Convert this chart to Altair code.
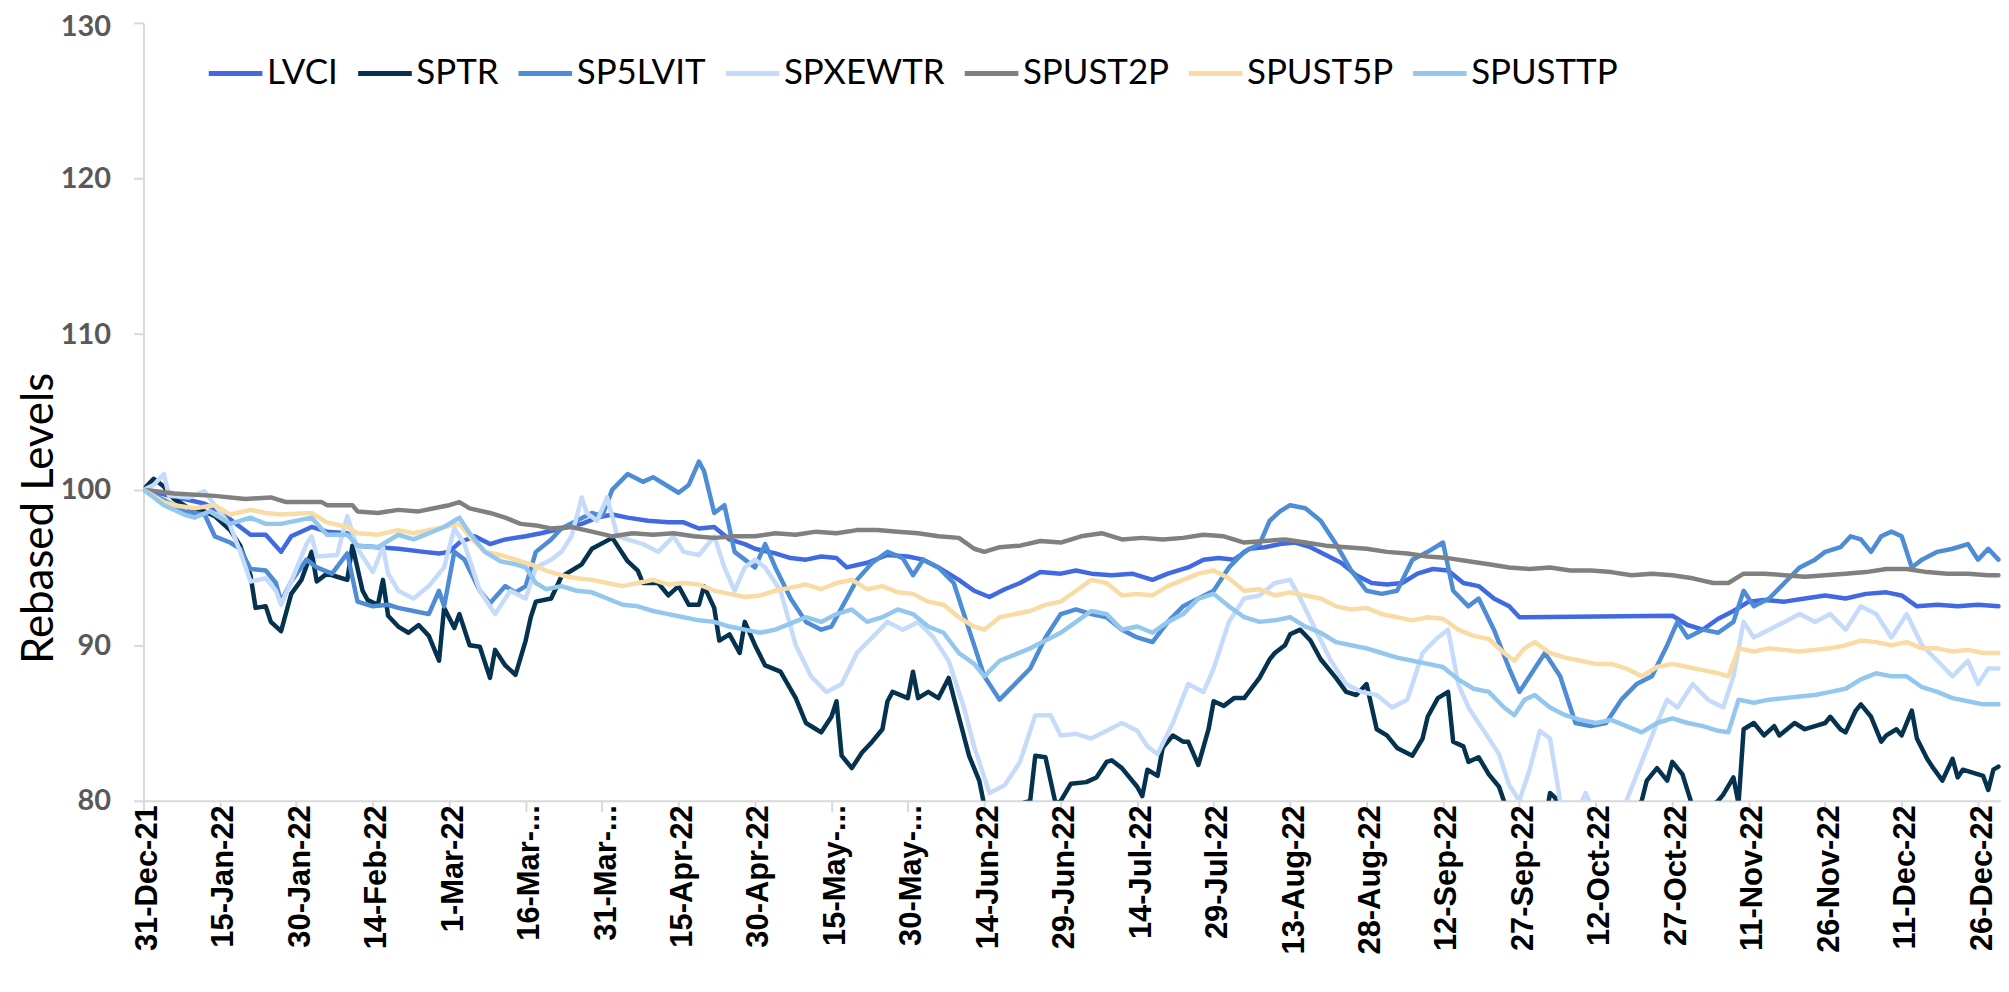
import datetime as dt
import altair as alt
import pandas as pd

# ---- data: (day offset from 31-Dec-21, rebased level) ----
LVCI = [(0,100),(3,99.8),(6,99.5),(8,99.4),(12,99.1),(15,98.6),(17,98.1),(21,97.1),(24,97.1),(27,96.0),(29,97.0),
        (33,97.6),(36,97.3),(40,97.2),(42,96.4),(46,96.3),(50,96.2),(55,96.0),(58,95.9),(60,96.0),(62,96.6),(65,97.0),
        (68,96.5),(71,96.8),(75,97.0),(78,97.2),(82,97.5),(86,97.8),(89,98.2),(92,98.4),(95,98.2),(99,98.0),(103,97.9),
        (106,97.9),(109,97.5),(112,97.6),(115,96.8),(118,96.5),(120,96.2),(124,95.9),(127,95.6),(130,95.5),(133,95.7),
        (136,95.6),(138,95.0),(142,95.3),(146,95.8),(150,95.7),(153,95.5),(156,95.0),(160,94.2),(163,93.5),(166,93.1),
        (169,93.6),(172,94.0),(176,94.7),(180,94.6),(183,94.8),(186,94.6),(190,94.5),(194,94.6),(198,94.2),(201,94.6),
        (205,95.0),(208,95.5),(211,95.6),(214,95.5),(217,96.2),(220,96.3),(223,96.5),(226,96.6),(229,96.3),(232,95.8),
        (235,95.3),(238,94.5),(241,94.0),(244,93.9),(247,94.0),(250,94.6),(253,94.9),(256,94.8),(259,94.0),(262,93.8),
        (265,93.0),(268,92.5),(270,91.8),(300,91.9),(303,91.3),(306,91.0),(309,91.7),(312,92.2),(315,92.8),(318,92.9),
        (322,92.8),(326,93.0),(330,93.2),(334,93.0),(338,93.3),(342,93.4),(345,93.2),(348,92.5),(352,92.6),(356,92.5),
        (360,92.6),(364,92.5)]

SPTR = [(0,100),(2,100.7),(4,100.2),(6,99.4),(9,98.8),(12,98.6),(14,98.3),(17,97.4),(19,96.4),(21,94.5),(22,92.4),
        (24,92.5),(25,91.5),(27,90.9),(29,93.3),(31,94.2),(33,96.0),(34,94.1),(36,94.6),(38,94.4),(40,94.2),(41,96.4),
        (43,93.5),(44,92.9),(46,92.6),(47,94.2),(48,91.9),(50,91.2),(52,90.8),(54,91.3),(56,90.6),(58,89.0),(59,92.4),
        (61,91.1),(62,92.0),(64,90.0),(66,89.9),(68,87.9),(69,89.7),(71,88.7),(73,88.1),(75,90.3),(76,91.8),(77,92.8),
        (80,93.0),(82,94.4),(86,95.2),(88,96.2),(92,96.9),(95,95.4),(97,94.8),(98,94.0),(101,94.0),(103,93.2),(105,93.8),
        (107,92.6),(109,92.6),(110,93.8),(112,92.4),(113,90.3),(115,90.7),(117,89.5),(118,91.5),(120,90.0),(122,88.7),
        (125,88.3),(128,86.6),(130,85.0),(132,84.6),(133,84.4),(135,85.4),(136,86.4),(137,82.9),(139,82.1),(141,83.1),
        (143,83.8),(145,84.6),(146,86.4),(147,87.0),(150,86.6),(151,88.3),(152,86.6),(154,87.0),(156,86.6),(158,87.9),
        (160,85.4),(162,82.9),(164,81.3),(165,79.7),(167,78.0),(170,78.5),(172,79.8),(174,80.0),(175,82.9),(177,82.8),
        (179,79.8),(180,80.0),(182,81.1),(185,81.2),(187,81.5),(189,82.5),(190,82.6),(192,82.1),(195,80.9),(196,80.3),
        (197,82.0),(199,81.6),(200,83.4),(202,84.2),(204,83.8),(205,83.8),(207,82.3),(209,84.6),(210,86.4),(212,86.1),
        (214,86.6),(216,86.6),(219,87.9),(221,89.1),(222,89.5),(224,90.0),(225,90.7),(227,91.0),(229,90.3),(231,89.1),
        (234,87.9),(236,87.0),(238,86.8),(240,87.5),(242,84.6),(244,84.2),(246,83.4),(249,82.9),(251,84.0),(252,85.4),
        (254,86.6),(256,87.0),(257,83.8),(259,83.5),(260,82.5),(262,82.8),(264,81.7),(266,80.9),(268,79.0),(270,77.0),
        (272,77.8),(275,78.5),(276,80.5),(277,80.2),(280,77.0),(284,76.4),(287,78.0),(291,78.8),(294,80.0),(295,81.3),
        (297,82.1),(299,81.3),(300,82.5),(302,81.7),(304,79.6),(306,79.2),(309,80.0),(310,80.4),(312,81.5),(313,79.8),
        (314,84.6),(316,85.0),(318,84.2),(320,84.8),(321,84.2),(324,85.0),(326,84.6),(328,84.8),(330,85.0),(331,85.4),
        (333,84.6),(334,84.4),(336,85.8),(337,86.2),(339,85.4),(341,83.8),(342,84.2),(344,84.6),(345,84.2),(347,85.8),
        (348,84.0),(350,82.7),(351,82.2),(353,81.3),(355,82.7),(356,81.5),(357,82.0),(361,81.6),(362,80.7),(363,82.0),
        (364,82.2)]

SP5LVIT = [(0,100),(3,99.5),(6,99.0),(8,98.6),(12,98.4),(14,97.0),(17,96.6),(19,96.2),(21,94.9),(24,94.8),(26,94.0),
           (27,92.8),(29,94.1),(32,95.5),(34,95.0),(37,94.6),(40,95.9),(42,92.8),(45,92.5),(48,92.6),(50,92.4),(53,92.2),
           (56,92.0),(58,93.5),(59,92.5),(61,96.0),(63,95.5),(66,93.5),(68,92.7),(71,93.8),(73,93.4),(75,93.8),(77,96.0),
           (80,96.8),(82,97.5),(85,98.0),(88,98.5),(90,98.3),(92,100.0),(95,101.0),(98,100.5),(100,100.8),(103,100.2),
           (105,99.8),(107,100.3),(109,101.8),(110,101.2),(112,98.5),(114,99.0),(116,96.0),(118,95.5),(120,95.0),
           (122,96.5),(124,95.0),(127,93.0),(130,91.5),(133,91.0),(135,91.2),(138,93.0),(140,94.2),(143,95.3),(146,96.0),
           (149,95.6),(151,94.5),(153,95.5),(156,95.0),(159,94.0),(162,91.0),(165,88.0),(168,86.5),(171,87.5),(174,88.5),
           (177,90.5),(180,92.0),(183,92.3),(186,92.0),(189,91.8),(192,91.0),(195,90.5),(198,90.2),(201,91.5),(204,92.5),
           (207,93.0),(210,93.5),(213,95.0),(216,96.0),(219,96.5),(221,98.0),(223,98.6),(225,99.0),(228,98.8),(231,98.0),
           (234,96.5),(237,94.8),(240,93.5),(243,93.3),(246,93.5),(249,95.5),(252,96.0),(255,96.6),(257,93.5),(260,92.5),
           (262,93.0),(265,91.0),(268,88.5),(270,87.0),(273,88.5),(275,89.5),(278,88.0),(281,85.0),(284,84.8),(287,85.0),
           (290,86.5),(293,87.5),(296,88.0),(299,90.0),(301,91.5),(303,90.5),(306,91.0),(309,90.8),(312,91.5),(314,93.5),
           (316,92.5),(319,93.0),(322,94.0),(325,95.0),(328,95.5),(330,96.0),(333,96.3),(335,97.0),(337,96.8),(339,96.0),
           (341,97.0),(343,97.3),(345,97.0),(347,95.0),(349,95.5),(352,96.0),(355,96.2),(358,96.5),(360,95.5),(362,96.2),
           (364,95.5)]

SPXEWTR = [(0,100),(2,100.3),(4,101.0),(5,99.6),(9,99.5),(12,99.9),(14,99.0),(17,97.7),(19,96.0),(21,94.1),(24,94.3),
           (26,93.5),(27,92.6),(29,94.1),(32,96.5),(33,97.0),(34,95.7),(38,95.8),(40,98.3),(42,96.2),(45,94.7),(47,96.3),
           (48,94.6),(50,93.5),(53,93.0),(56,93.8),(59,95.0),(61,97.5),(63,96.5),(66,93.5),(69,92.0),(72,93.5),(75,93.0),
           (77,95.0),(80,95.5),(82,96.0),(84,97.0),(86,99.5),(87,98.5),(89,98.0),(91,99.5),(93,97.0),(95,96.8),(98,96.5),
           (101,96.0),(104,97.0),(106,96.0),(109,95.8),(112,97.0),(114,95.0),(116,93.5),(118,95.0),(120,95.5),(122,95.0),
           (125,93.5),(128,90.0),(131,88.0),(134,87.0),(137,87.5),(140,89.5),(143,90.5),(146,91.5),(149,91.0),(152,91.5),
           (155,90.5),(158,89.0),(161,86.0),(163,83.5),(166,80.5),(169,81.0),(172,82.5),(175,85.5),(178,85.5),(180,84.2),
           (183,84.3),(186,84.0),(189,84.5),(192,85.0),(195,84.5),(197,83.5),(199,83.0),(202,85.0),(205,87.5),(208,87.0),
           (210,88.5),(213,91.5),(216,93.0),(219,93.2),(222,94.0),(225,94.2),(227,93.0),(230,91.0),(233,89.0),(236,87.5),
           (239,87.0),(242,86.8),(245,86.0),(248,86.5),(251,89.5),(254,90.5),(256,91.0),(258,87.5),(260,86.0),(263,84.5),
           (266,83.0),(268,81.0),(270,80.0),(272,82.0),(274,84.5),(276,84.0),(278,80.0),(281,79.0),(283,80.5),(285,79.0),
           (288,78.5),(291,80.0),(294,82.5),(297,85.0),(299,86.5),(301,86.0),(304,87.5),(307,86.5),(310,86.0),(312,88.0),
           (314,91.5),(316,90.5),(319,91.0),(322,91.5),(325,92.0),(328,91.5),(331,92.0),(334,91.0),(337,92.5),(340,92.0),
           (343,90.5),(346,92.0),(349,90.0),(352,89.0),(355,88.0),(358,89.0),(360,87.5),(362,88.5),(364,88.5)]

SPUST2P = [(0,100),(6,99.75),(14,99.6),(20,99.4),(25,99.5),(28,99.2),(35,99.2),(36,99.0),(41,99.0),(42,98.6),(46,98.5),
           (50,98.7),(54,98.6),(57,98.8),(60,99.0),(62,99.2),(64,98.8),(68,98.5),(71,98.2),(74,97.8),(77,97.7),(80,97.5),
           (84,97.6),(88,97.3),(92,97.0),(96,97.2),(100,97.1),(104,97.2),(108,97.0),(112,96.9),(116,97.0),(120,97.0),
           (124,97.2),(128,97.1),(132,97.3),(136,97.2),(140,97.4),(144,97.4),(148,97.3),(152,97.2),(156,97.0),(160,96.9),
           (163,96.2),(165,96.0),(168,96.3),(172,96.4),(176,96.7),(180,96.6),(184,97.0),(188,97.2),(192,96.8),(196,96.9),
           (200,96.8),(204,96.9),(208,97.1),(212,97.0),(216,96.6),(220,96.7),(224,96.8),(228,96.6),(232,96.4),(236,96.3),
           (240,96.2),(244,96.0),(248,95.9),(252,95.7),(256,95.6),(260,95.4),(264,95.2),(268,95.0),(272,94.9),(276,95.0),
           (280,94.8),(284,94.8),(288,94.7),(292,94.5),(296,94.6),(300,94.5),(304,94.3),(308,94.0),(311,94.0),(314,94.6),
           (318,94.6),(322,94.5),(326,94.4),(330,94.5),(334,94.6),(338,94.7),(342,94.9),(346,94.9),(350,94.7),(354,94.6),
           (358,94.6),(362,94.5),(364,94.5)]

SPUST5P = [(0,100),(4,99.2),(6,99.0),(10,98.8),(14,99.0),(17,98.4),(21,98.7),(24,98.5),(27,98.4),(33,98.5),(36,97.9),
           (40,97.6),(42,97.2),(46,97.1),(50,97.4),(53,97.2),(56,97.4),(59,97.6),(62,97.8),(64,97.0),(67,96.0),(70,95.8),
           (73,95.5),(76,95.2),(79,94.8),(82,94.5),(85,94.3),(88,94.2),(91,94.0),(94,93.8),(97,94.0),(100,94.2),(103,93.9),
           (106,94.0),(109,93.9),(112,93.5),(115,93.3),(118,93.1),(121,93.2),(124,93.5),(127,93.7),(130,93.9),(133,93.6),
           (136,94.0),(139,94.2),(142,93.6),(145,93.8),(148,93.4),(151,93.3),(154,92.8),(157,92.6),(160,91.8),(163,91.2),
           (165,91.0),(168,91.8),(171,92.0),(174,92.2),(177,92.6),(180,92.8),(183,93.5),(186,94.2),(189,94.0),(192,93.2),
           (195,93.3),(198,93.2),(201,93.8),(204,94.2),(207,94.6),(210,94.8),(213,94.3),(216,93.5),(219,93.6),(222,93.2),
           (225,93.4),(228,93.2),(231,93.0),(234,92.5),(237,92.3),(240,92.4),(243,92.0),(246,91.8),(249,91.6),(252,91.8),
           (255,91.7),(258,91.0),(261,90.6),(264,90.4),(267,89.5),(269,89.0),(271,89.8),(273,90.2),(276,89.5),(279,89.2),
           (282,89.0),(285,88.8),(288,88.8),(291,88.5),(294,88.0),(297,88.6),(300,88.8),(303,88.6),(306,88.4),(309,88.2),
           (311,88.0),(313,89.8),(316,89.6),(319,89.8),(322,89.7),(325,89.6),(328,89.7),(331,89.8),(334,90.0),(337,90.3),
           (340,90.2),(343,90.0),(346,90.2),(349,89.8),(352,89.8),(355,89.6),(358,89.7),(361,89.5),(364,89.5)]

SPUSTTP = [(0,100),(4,99.0),(8,98.4),(10,98.2),(13,98.6),(17,97.8),(21,98.2),(24,97.8),(27,97.8),(33,98.2),(36,97.1),
           (40,97.1),(42,96.4),(46,96.3),(50,97.1),(53,96.8),(56,97.2),(59,97.6),(62,98.2),(64,97.2),(67,96.0),(70,95.4),
           (73,95.2),(75,95.0),(77,94.0),(79,93.6),(82,93.8),(85,93.5),(88,93.4),(91,93.0),(94,92.6),(97,92.5),(100,92.2),
           (103,92.0),(106,91.8),(109,91.6),(112,91.5),(115,91.2),(118,91.0),(121,90.8),(124,91.0),(127,91.4),(130,91.8),
           (133,91.5),(136,92.0),(139,92.3),(142,91.5),(145,91.8),(148,92.3),(151,92.0),(154,91.2),(157,90.8),(160,89.5),
           (163,88.8),(165,88.0),(168,89.0),(171,89.4),(174,89.8),(177,90.3),(180,90.8),(183,91.5),(186,92.2),(189,92.0),
           (192,91.0),(195,91.2),(198,90.8),(201,91.5),(204,92.0),(207,93.0),(210,93.3),(213,92.5),(216,91.8),(219,91.5),
           (222,91.6),(225,91.8),(228,91.2),(231,90.8),(234,90.2),(237,90.0),(240,89.8),(243,89.5),(246,89.2),(249,89.0),
           (252,88.8),(255,88.6),(258,87.8),(261,87.2),(264,87.0),(267,86.0),(269,85.5),(271,86.5),(273,86.8),(276,86.0),
           (279,85.5),(282,85.2),(285,85.0),(288,85.2),(291,84.8),(294,84.4),(297,85.0),(300,85.3),(303,85.0),(306,84.8),
           (309,84.5),(311,84.4),(313,86.5),(316,86.3),(319,86.5),(322,86.6),(325,86.7),(328,86.8),(331,87.0),(334,87.2),
           (337,87.8),(340,88.2),(343,88.0),(346,88.0),(349,87.3),(352,87.0),(355,86.6),(358,86.4),(361,86.2),(364,86.2)]

SERIES_NAMES = ["LVCI", "SPTR", "SP5LVIT", "SPXEWTR", "SPUST2P", "SPUST5P", "SPUSTTP"]
SERIES_COLORS = ["#4169E1", "#04324F", "#4E8DD6", "#C6DAFA", "#808080", "#F9DBA5", "#93C7EE"]
SERIES_DATA = [LVCI, SPTR, SP5LVIT, SPXEWTR, SPUST2P, SPUST5P, SPUSTTP]

Y_TICKS = [80, 90, 100, 110, 120, 130]
TICK_STEP_DAYS = 15
N_TICKS = 25
TRUNCATED_LABELS = ["16-Mar-22", "31-Mar-22", "15-May-22", "30-May-22"]

BASE = dt.datetime(2021, 12, 31, tzinfo=dt.timezone.utc)


def ms(days):
    return int((BASE + dt.timedelta(days=days)).timestamp() * 1000)


rows = []
for k, (name, pts) in enumerate(zip(SERIES_NAMES, SERIES_DATA)):
    for d, v in pts:
        rows.append({"series": name, "k": k, "date": ms(d), "value": v})
df = pd.DataFrame(rows)

tick_values = [ms(TICK_STEP_DAYS * i) for i in range(N_TICKS)]

fmt = "utcFormat(datum.value, '%-d-%b-%y')"
trunc_list = "[" + ",".join("'" + t + "'" for t in TRUNCATED_LABELS) + "]"
label_expr = (
    f"indexof({trunc_list}, {fmt}) >= 0 ? slice({fmt}, 0, -2) + '...' : "
    f"{fmt} + '\u00a0\u00a0\u00a0\u00a0'"
)

chart = (
    alt.Chart(df)
    .mark_line(strokeWidth=4.5, clip=True, strokeJoin="round", strokeCap="round")
    .encode(
        x=alt.X(
            "date:T",
            scale=alt.Scale(type="utc", domain=[ms(0), ms(364.5)], nice=False),
            axis=alt.Axis(
                values=tick_values,
                labelExpr=label_expr,
                labelAngle=270,
                labelAlign="right",
                labelBaseline="middle",
                labelFont="Liberation Sans",
                labelFontWeight="bold",
                labelFontSize=31,
                labelColor="#000000",
                labelPadding=-7,
                labelOffset=4,
                labelOverlap=False,
                labelFlush=False,
                labelBound=False,
                tickSize=11,
                tickWidth=2,
                tickColor="#d9d9d9",
                domainColor="#d9d9d9",
                domainWidth=2,
                grid=False,
                title=None,
            ),
        ),
        y=alt.Y(
            "value:Q",
            scale=alt.Scale(domain=[80, 130], nice=False, zero=False),
            axis=alt.Axis(
                values=Y_TICKS,
                labelFont="Lato",
                labelFontWeight="bold",
                labelFontSize=29,
                labelColor="#595959",
                labelPadding=23,
                labelOffset={"condition": {"test": "datum.value == 130", "value": 4}, "value": 0},
                tickSize=10,
                tickWidth=2,
                tickColor="#d9d9d9",
                domainColor="#d9d9d9",
                domainWidth=2,
                grid=False,
                title="Rebased Levels",
                titleFont="Lato",
                titleFontWeight="normal",
                titleFontSize=44,
                titleColor="#000000",
                titleAngle=270,
                titleAlign="center",
                titleBaseline="middle",
                titleX=-104,
                titleY=497,
            ),
        ),
        color=alt.Color(
            "series:N",
            scale=alt.Scale(domain=SERIES_NAMES, range=SERIES_COLORS),
            legend=alt.Legend(
                title=None,
                orient="none",
                legendX=63,
                legendY=21,
                direction="horizontal",
                columns=7,
                symbolType="stroke",
                symbolSize=2900,
                symbolStrokeWidth=5,
                labelFont="Lato",
                labelFontSize=35,
                labelColor="#000000",
                labelOffset=2,
                columnPadding=9,
                labelLimit=400,
            ),
        ),
        order=alt.Order("date:T"),
        detail="k:O",
    )
    .properties(
        width=1865,
        height=781,
        autosize=alt.AutoSizeParams(type="none"),
        padding={"left": 136, "top": 13, "right": 0, "bottom": 190},
        background="#ffffff",
    )
    .configure_view(stroke=None)
)

chart.save("out.html", embed_options={"renderer": "svg", "actions": False})
